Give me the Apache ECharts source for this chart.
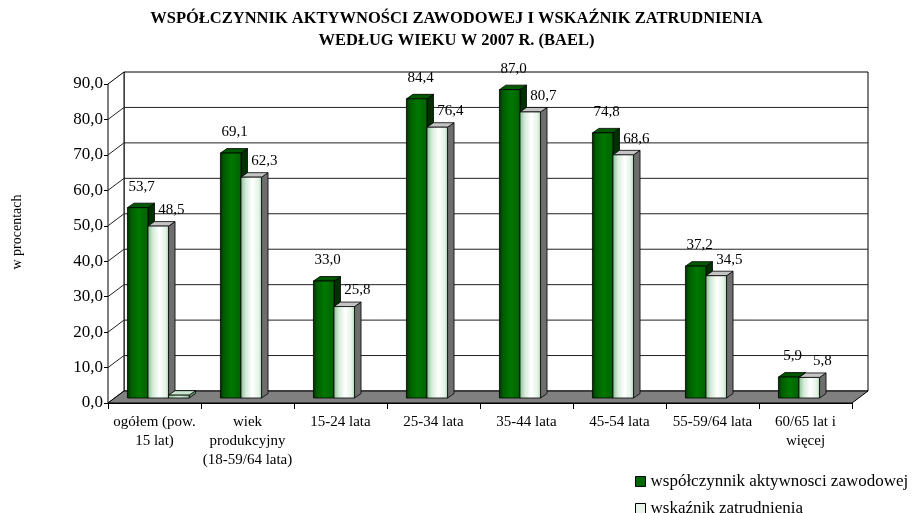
<!DOCTYPE html>
<html><head><meta charset="utf-8">
<script src="https://cdn.jsdelivr.net/npm/echarts@6/dist/echarts.min.js"></script>
<style>html,body{margin:0;padding:0;background:#fff}#c{width:913px;height:513px}</style>
</head><body><div id="c"></div>
<script>
const categories = ['ogółem (pow.\n15 lat)', 'wiek\nprodukcyjny\n(18-59/64 lata)', '15-24 lata', '25-34 lata', '35-44 lata', '45-54 lata', '55-59/64 lata', '60/65 lat i\nwięcej'];
const activityRate = [53.7, 69.1, 33.0, 84.4, 87.0, 74.8, 37.2, 5.9];
const employmentRate = [48.5, 62.3, 25.8, 76.4, 80.7, 68.6, 34.5, 5.8];
const thirdSeries = [0.8, null, null, null, null, null, null, null];
const yMin = 0, yMax = 90, yStep = 10;
const seriesNames = ['współczynnik aktywnosci zawodowej', 'wskaźnik zatrudnienia'];

const FONT = 'Liberation Serif';
const WALL_DX = 16, WALL_DY = -12;
const BAR_BASE_DY = -5, BAR_DX = 6.5, BAR_DY = -4.5;
const SLOT_START = -0.291, SLOT_W = 0.221;

const G = echarts.graphic;
const greenFace = new G.LinearGradient(0, 0, 1, 0, [
  {offset: 0, color: '#002a00'}, {offset: 0.18, color: '#005c00'},
  {offset: 0.55, color: '#007800'}, {offset: 1, color: '#006000'}]);
const whiteFace = new G.LinearGradient(0, 0, 1, 0, [
  {offset: 0, color: '#86bf92'}, {offset: 0.25, color: '#d6ecd9'},
  {offset: 0.55, color: '#ffffff'}, {offset: 0.85, color: '#e4f2e6'}, {offset: 1, color: '#a3d0ab'}]);
const thirdFace = new G.LinearGradient(0, 0, 1, 0, [
  {offset: 0, color: '#8cc497'}, {offset: 0.5, color: '#d8eedb'}, {offset: 1, color: '#9ccca6'}]);

function fmt(v) { return v.toFixed(1).replace('.', ','); }

function makeBar(slot, face, top, side, lblDX, lblDY) {
  return function (params, api) {
    const i = api.value(0), v = api.value(1);
    if (v == null || isNaN(v)) return null;
    const bw = api.size([1, 0])[0];
    const base = api.coord([i, 0]);
    const tp = api.coord([i, v]);
    const w = bw * SLOT_W;
    const x0 = base[0] + bw * (SLOT_START + slot * SLOT_W);
    const yb = base[1] + BAR_BASE_DY;
    const yt = tp[1] + BAR_BASE_DY;
    const st = {stroke: '#000', lineWidth: 0.8};
    const children = [
      {type: 'polygon', shape: {points: [[x0 + w, yt], [x0 + w + BAR_DX, yt + BAR_DY], [x0 + w + BAR_DX, yb + BAR_DY], [x0 + w, yb]]}, style: Object.assign({fill: side}, st)},
      {type: 'polygon', shape: {points: [[x0, yt], [x0 + BAR_DX, yt + BAR_DY], [x0 + w + BAR_DX, yt + BAR_DY], [x0 + w, yt]]}, style: Object.assign({fill: top}, st)},
      {type: 'rect', shape: {x: x0, y: yt, width: w, height: yb - yt}, style: Object.assign({fill: face}, st)}
    ];
    if (lblDX != null) {
      children.push({type: 'text', z2: 50, style: {text: fmt(v), x: x0 + w / 2 + lblDX, y: yt - lblDY,
        align: 'center', verticalAlign: 'middle', font: '15px "' + FONT + '"', fill: '#000'}});
    }
    return {type: 'group', children: children};
  };
}

function renderFrame(params, api) {
  const cs = params.coordSys;
  const L = cs.x, R = cs.x + cs.width, T = cs.y, B = cs.y + cs.height;
  const ch = [];
  ch.push({type: 'rect', shape: {x: L + WALL_DX, y: T + WALL_DY, width: R - L, height: B - T}, style: {fill: '#fff', stroke: '#000', lineWidth: 1}});
  ch.push({type: 'polygon', shape: {points: [[L, T], [L + WALL_DX, T + WALL_DY], [L + WALL_DX, B + WALL_DY], [L, B]]}, style: {fill: '#fff', stroke: '#000', lineWidth: 1}});
  for (let v = yMin + yStep; v < yMax; v += yStep) {
    const y = api.coord([0, v])[1];
    ch.push({type: 'line', shape: {x1: L + WALL_DX, y1: y + WALL_DY, x2: R + WALL_DX, y2: y + WALL_DY}, style: {stroke: '#222', lineWidth: 1}});
    ch.push({type: 'line', shape: {x1: L, y1: y, x2: L + WALL_DX, y2: y + WALL_DY}, style: {stroke: '#222', lineWidth: 1}});
  }
  ch.push({type: 'polygon', shape: {points: [[L, B], [R, B], [R + WALL_DX, B + WALL_DY], [L + WALL_DX, B + WALL_DY]]}, style: {fill: '#808080', stroke: '#000', lineWidth: 1}});
  return {type: 'group', children: ch};
}

const legendText = {fontFamily: FONT, fontSize: 17, color: '#000'};
const chart = echarts.init(document.getElementById('c'), null, {renderer: 'canvas'});
chart.setOption({
  backgroundColor: '#fff',
  animation: false,
  title: {
    text: 'WSPÓŁCZYNNIK AKTYWNOŚCI ZAWODOWEJ I WSKAŹNIK ZATRUDNIENIA\nWEDŁUG WIEKU W 2007 R. (BAEL)',
    left: 'center', top: 3,
    textStyle: {fontFamily: FONT, fontWeight: 'bold', fontSize: 16.5, lineHeight: 22, color: '#000'}
  },
  legend: [
    {left: 635, top: 473, itemWidth: 10, itemHeight: 10, icon: 'rect', padding: 0, textStyle: legendText,
      data: [{name: seriesNames[0], itemStyle: {color: '#006600', borderColor: '#000', borderWidth: 1}}]},
    {left: 635, top: 500, itemWidth: 10, itemHeight: 10, icon: 'rect', padding: 0, textStyle: legendText,
      data: [{name: seriesNames[1], itemStyle: {color: '#e8f4ea', borderColor: '#000', borderWidth: 1}}]}
  ],
  graphic: [{
    type: 'text', x: 17, y: 232, rotation: Math.PI / 2,
    style: {text: 'w procentach', align: 'center', verticalAlign: 'middle', font: '14px "' + FONT + '"', fill: '#000'}
  }],
  grid: {left: 108, right: 61, top: 84, bottom: 110},
  xAxis: {
    type: 'category', data: categories, boundaryGap: true,
    axisLine: {lineStyle: {color: '#000', width: 1}},
    axisTick: {show: true, length: 6, lineStyle: {color: '#000'}},
    axisLabel: {fontFamily: FONT, fontSize: 15, color: '#000', lineHeight: 19, margin: 10, interval: 0}
  },
  yAxis: {
    type: 'value', min: yMin, max: yMax, interval: yStep,
    axisLine: {show: true, lineStyle: {color: '#000', width: 1}},
    axisTick: {show: true, length: 4, lineStyle: {color: '#000'}},
    splitLine: {show: false},
    axisLabel: {fontFamily: FONT, fontSize: 17, color: '#000', margin: 5, formatter: fmt}
  },
  series: [
    {type: 'custom', name: 'frame', silent: true, z: 1, renderItem: renderFrame, data: [[0, 0]]},
    {type: 'custom', name: seriesNames[0], z: 3, itemStyle: {color: '#006600'},
      renderItem: makeBar(0, greenFace, '#005800', '#003000', 4, 21), data: activityRate.map((v, i) => [i, v])},
    {type: 'custom', name: seriesNames[1], z: 4, itemStyle: {color: '#e8f4ea'},
      renderItem: makeBar(1, whiteFace, '#c4c4c4', '#6e6e6e', 13, 16), data: employmentRate.map((v, i) => [i, v])},
    {type: 'custom', name: 'seria 3', z: 5, itemStyle: {color: '#a8d4b0'},
      renderItem: makeBar(2, thirdFace, '#c8e6cc', '#5f8f68', null, null), data: thirdSeries.map((v, i) => [i, v])}
  ]
});
</script></body></html>
